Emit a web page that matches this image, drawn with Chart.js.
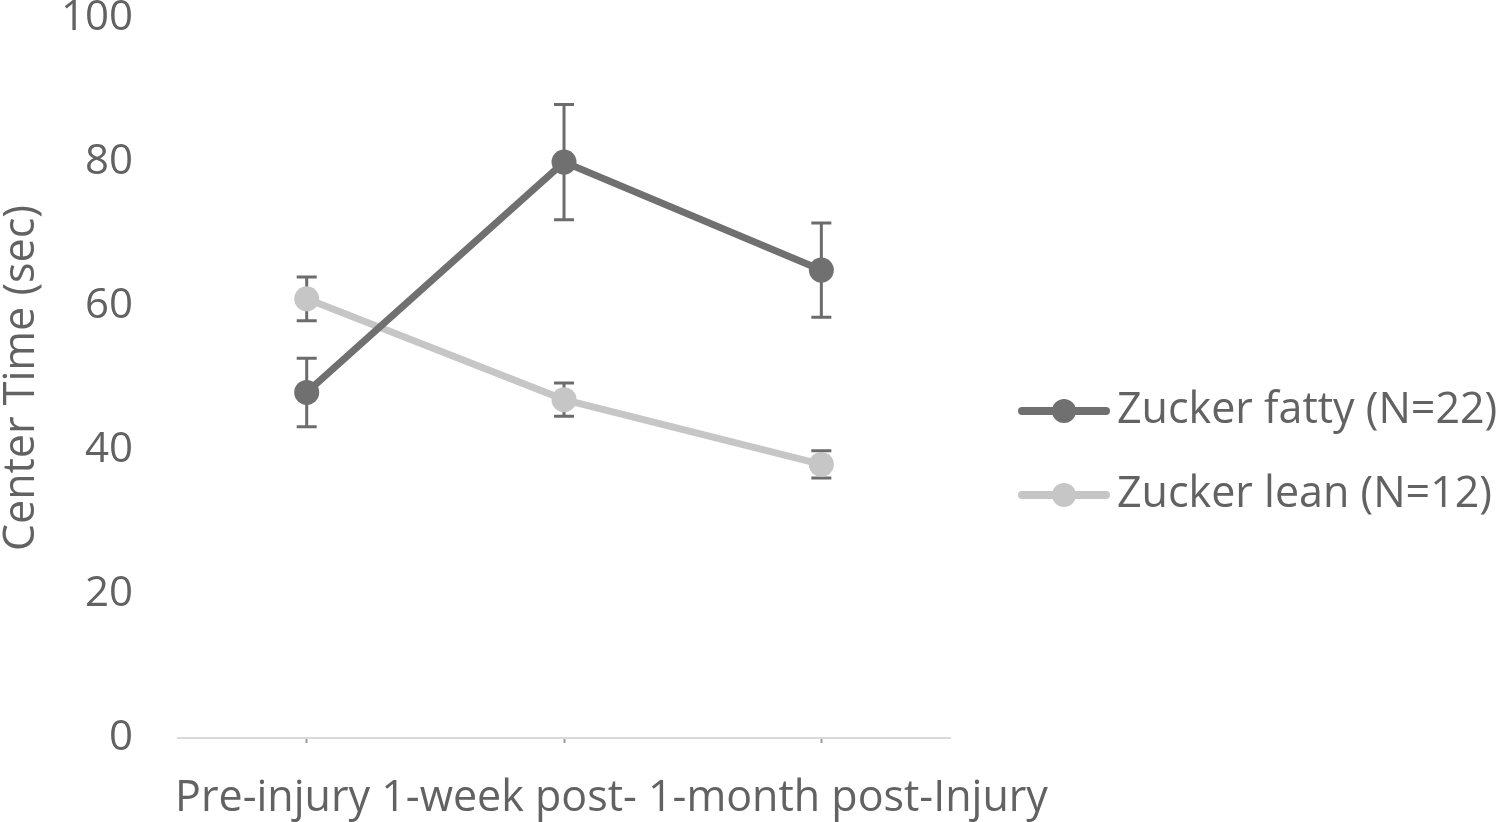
<!DOCTYPE html>
<html>
<head>
<meta charset="utf-8">
<script src="https://cdn.jsdelivr.net/npm/chart.js@4.4.1/dist/chart.umd.min.js"></script>
<style>
  html, body { margin: 0; padding: 0; background: #fff; }
  #wrap { width: 1500px; height: 822px; position: relative; }
</style>
</head>
<body>
<div id="wrap"><canvas id="chart"></canvas></div>
<script>
// data
const categories = ['Pre-injury', '1-week post-', '1-month post-Injury'];
const seriesNames = ['Zucker fatty (N=22)', 'Zucker lean (N=12)'];
const fattyMeans = [48, 80, 65];
const fattyErrors = [4.75, 8, 6.55];
const leanMeans = [61, 47, 38];
const leanErrors = [3.05, 2.3, 1.9];
const yTicks = [0, 20, 40, 60, 80, 100];

const textColor = '#626262';
const fontFamily = '"Open Sans", Lato, sans-serif';
const fattyColor = '#707070';
const leanColor = '#c6c6c6';
const errColor = '#6c6c6c';

// error bars, drawn under the lines and markers
const errorBars = {
    id: 'errorBars',
    beforeDatasetsDraw(chart) {
        const ctx = chart.ctx;
        const x = chart.scales.x, y = chart.scales.y;
        ctx.save();
        ctx.strokeStyle = errColor;
        ctx.lineWidth = 3;
        chart.data.datasets.forEach(ds => {
            ds.data.forEach((v, i) => {
                const e = ds.errors[i];
                const px = x.getPixelForValue(i);
                const top = y.getPixelForValue(v + e);
                const bot = y.getPixelForValue(v - e);
                ctx.beginPath();
                ctx.moveTo(px, top); ctx.lineTo(px, bot);
                ctx.moveTo(px - 10, top); ctx.lineTo(px + 10, top);
                ctx.moveTo(px - 10, bot); ctx.lineTo(px + 10, bot);
                ctx.stroke();
            });
        });
        ctx.restore();
    }
};

// category caption runs past the plot in the original, so it is drawn
// here without the width limit Chart.js puts on axis titles
const categoryCaption = {
    id: 'categoryCaption',
    afterDraw(chart) {
        const ctx = chart.ctx;
        const area = chart.chartArea;
        ctx.save();
        ctx.font = '43px ' + fontFamily;
        ctx.fillStyle = textColor;
        ctx.textAlign = 'left';
        ctx.textBaseline = 'middle';
        ctx.fillText(categories.join(' '), area.left - 3, area.bottom + 61);
        ctx.restore();
    }
};

// legend to the right of the plot, line + marker sample
const sideLegend = {
    id: 'sideLegend',
    afterDraw(chart) {
        const ctx = chart.ctx;
        const area = chart.chartArea;
        const x0 = area.right + 68;
        ctx.save();
        ctx.font = '43px ' + fontFamily;
        ctx.textBaseline = 'middle';
        chart.data.datasets.forEach((ds, i) => {
            const yc = area.top + 393 + i * 84;
            ctx.strokeStyle = ds.borderColor;
            ctx.lineWidth = 8;
            ctx.lineCap = 'round';
            ctx.beginPath();
            ctx.moveTo(x0 + 4, yc); ctx.lineTo(x0 + 88, yc);
            ctx.stroke();
            ctx.fillStyle = ds.borderColor;
            ctx.beginPath();
            ctx.arc(x0 + 46, yc, 12, 0, Math.PI * 2);
            ctx.fill();
            ctx.fillStyle = textColor;
            ctx.fillText(ds.label, x0 + 99, yc);
        });
        ctx.restore();
    }
};

const ctx = document.getElementById('chart').getContext('2d');
const chart = new Chart(ctx, {
    type: 'line',
    data: {
        labels: categories,
        datasets: [{
            label: seriesNames[0],
            data: fattyMeans,
            errors: fattyErrors,
            borderColor: fattyColor,
            backgroundColor: fattyColor,
            borderWidth: 7,
            pointRadius: 12.5,
            pointHoverRadius: 12.5,
            pointBorderWidth: 0,
            tension: 0
        }, {
            label: seriesNames[1],
            data: leanMeans,
            errors: leanErrors,
            borderColor: leanColor,
            backgroundColor: leanColor,
            borderWidth: 7,
            pointRadius: 12.5,
            pointHoverRadius: 12.5,
            pointBorderWidth: 0,
            tension: 0
        }]
    },
    options: {
        responsive: true,
        maintainAspectRatio: false,
        animation: false,
        layout: {
            padding: { left: 0, right: 550, top: 0, bottom: 79 }
        },
        plugins: {
            legend: { display: false },
            tooltip: { enabled: false }
        },
        scales: {
            x: {
                offset: true,
                grid: {
                    display: true,
                    drawOnChartArea: false,
                    drawTicks: true,
                    tickLength: 5,
                    tickWidth: 2,
                    tickColor: '#9a9a9a'
                },
                border: { display: true, color: '#d9d9d9', width: 2 },
                ticks: { display: false }
            },
            y: {
                min: 0,
                max: 100,
                afterBuildTicks: axis => {
                    axis.ticks = yTicks.map(v => ({ value: v }));
                },
                // hidden tick marks keep the labels 45px left of the plot
                grid: { display: false, drawTicks: true, tickLength: 45 },
                border: { display: false },
                ticks: {
                    color: textColor,
                    padding: 0,
                    font: { family: fontFamily, size: 42, lineHeight: 0.86 }
                },
                title: {
                    display: true,
                    text: 'Center Time (sec)',
                    color: textColor,
                    font: { family: fontFamily, size: 43, lineHeight: 1 },
                    padding: { top: 0, bottom: 18 }
                }
            }
        }
    },
    plugins: [errorBars, categoryCaption, sideLegend]
});
</script>
</body>
</html>
